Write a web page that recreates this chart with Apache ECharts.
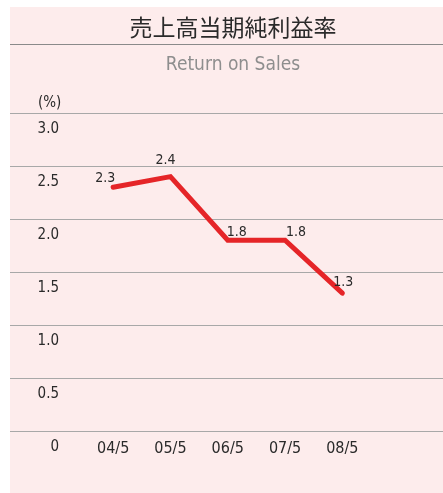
<!DOCTYPE html>
<html>
<head>
<meta charset="utf-8">
<script src="https://cdn.jsdelivr.net/npm/echarts@6/dist/echarts.min.js"></script>
<style>
  html, body { margin: 0; padding: 0; background: #fff; }
  #panel { position: absolute; left: 10px; top: 7px; width: 433px; height: 486px; background: #fdecec; }
  #chart { position: absolute; left: 0; top: 0; width: 443px; height: 493px; }
</style>
</head>
<body>
<div id="panel"></div>
<div id="chart"></div>
<script>
// data
var categories = ['04/5', '05/5', '06/5', '07/5', '08/5'];
var returnOnSales = [2.3, 2.4, 1.8, 1.8, 1.3];
var yTicks = [0, 0.5, 1.0, 1.5, 2.0, 2.5, 3.0];

// label nudges per point (styling only)
var labelOffsets = [[-8, 4], [-5, -3], [9, 5], [11, 5], [1, 2]];

var narrow = '"Liberation Sans Narrow", "DejaVu Sans Condensed", "Roboto", sans-serif';

var gridTop = 113, gridBottom = 62;

var option = {
  backgroundColor: 'transparent',
  animation: false,
  title: [
    {
      text: '売上高当期純利益率',
      left: 228, top: 11, textAlign: 'center',
      textStyle: { fontFamily: '"Noto Sans CJK JP", sans-serif', fontSize: 23, fontWeight: 'normal', color: '#2a2a2a' }
    },
    {
      text: 'Return on Sales',
      left: 228, top: 51, textAlign: 'center',
      textStyle: { fontFamily: narrow, fontSize: 19, fontWeight: 'normal', color: '#8e8e8e' }
    },
    {
      text: '(%)',
      left: 33, top: 91,
      textStyle: { fontFamily: narrow, fontSize: 15, fontWeight: 'normal', color: '#2a2a2a' }
    }
  ],
  graphic: [
    { type: 'line', shape: { x1: 10, y1: 44.5, x2: 443, y2: 44.5 }, style: { stroke: '#8a8a8a', lineWidth: 1 } }
  ],
  grid: [
    { left: 10, right: 0, top: gridTop, bottom: gridBottom },
    { left: 84.5, right: 72, top: gridTop, bottom: gridBottom }
  ],
  xAxis: [
    { gridIndex: 0, type: 'value', show: false, min: 0, max: 1 },
    {
      gridIndex: 1, type: 'category', data: categories, boundaryGap: true,
      axisLine: { show: false }, axisTick: { show: false },
      axisLabel: { margin: 10, fontFamily: narrow, fontSize: 16, color: '#2a2a2a' }
    }
  ],
  yAxis: [
    {
      gridIndex: 0, type: 'value', min: yTicks[0], max: yTicks[yTicks.length - 1], interval: 0.5,
      axisLine: { show: false }, axisTick: { show: false },
      splitLine: { show: true, lineStyle: { color: '#a8a8a8', width: 1 } },
      axisLabel: {
        margin: -49, align: 'right', verticalAlign: 'top', padding: [9, 0, 0, 0],
        fontFamily: narrow, fontSize: 15, color: '#2a2a2a',
        formatter: function (v) { return v === 0 ? '0' : v.toFixed(1); }
      }
    },
    {
      gridIndex: 1, type: 'value', min: yTicks[0], max: yTicks[yTicks.length - 1], interval: 0.5,
      show: false, splitLine: { show: false }
    }
  ],
  series: [
    {
      type: 'line',
      xAxisIndex: 1, yAxisIndex: 1,
      data: returnOnSales.map(function (v, i) {
        return { value: v, label: { offset: labelOffsets[i] } };
      }),
      showSymbol: true,
      symbol: 'circle',
      symbolSize: 0,
      itemStyle: { color: '#e52528' },
      lineStyle: { color: '#e52528', width: 5, cap: 'round', join: 'miter' },
      label: {
        show: true, position: 'top', distance: 6,
        fontFamily: narrow, fontSize: 14, color: '#2a2a2a',
        formatter: function (p) { return p.value.toFixed(1); }
      }
    }
  ]
};

var myChart = echarts.init(document.getElementById('chart'));
myChart.setOption(option);
</script>
</body>
</html>
